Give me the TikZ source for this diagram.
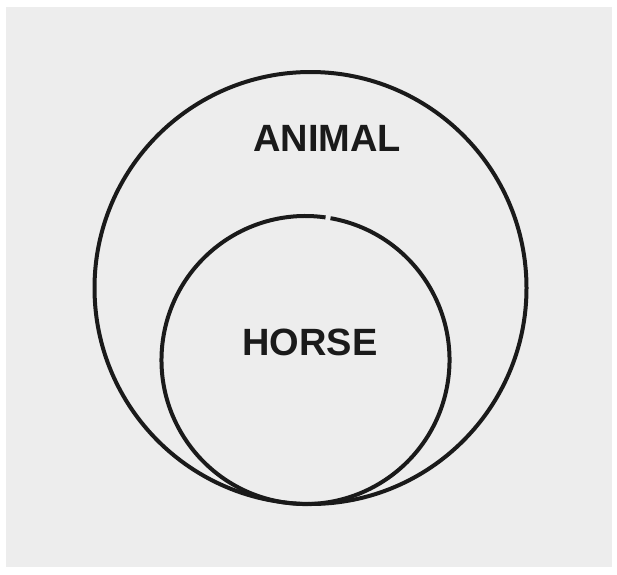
\documentclass[tikz,border=0pt]{standalone}
\usepackage{fontspec}
\setmainfont{Liberation Sans}
\definecolor{paper}{HTML}{EDEDED}
\definecolor{ink}{HTML}{1A1A1A}
\tikzset{
  setring/.style={draw=ink, line width=4pt},
  setlabel/.style={font=\fontsize{38}{38}\selectfont\bfseries, text=ink, inner sep=0pt}
}
\begin{document}
\begin{tikzpicture}[x=1pt,y=-1pt]
\useasboundingbox (0,0) rectangle (617,574);
\fill[white] (0,0) rectangle (617,574);
\fill[paper] (6,7) rectangle (612,567);
% outer set
\draw[setring] (310.5,288) circle[radius=216];
% inner set, with the small break at its top (y axis points down here)
\draw[setring] (305.5,360) ++(-80:144) arc[start angle=-80, end angle=278, radius=144];
\node[setlabel] (animal) at (327,138) {ANIMAL};
\node[setlabel] (horse) at (310,342) {HORSE};
\end{tikzpicture}
\end{document}
